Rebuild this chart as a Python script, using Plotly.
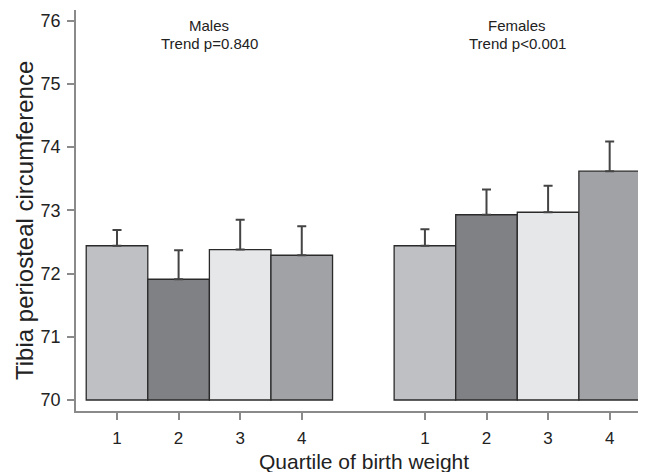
import plotly.graph_objects as go

# Data
quartile_labels = ["1", "2", "3", "4", "1", "2", "3", "4"]
x_positions = [1, 2, 3, 4, 6, 7, 8, 9]
male_means = [72.44, 71.91, 72.38, 72.29]
male_upper = [72.69, 72.37, 72.85, 72.75]
female_means = [72.44, 72.93, 72.97, 73.62]
female_upper = [72.70, 73.33, 73.39, 74.09]
bar_colors = ["#bfc0c4", "#808185", "#e6e7e9", "#a1a2a6"]
baseline = 70

means = male_means + female_means
uppers = male_upper + female_upper

fig = go.Figure()
fig.add_trace(go.Bar(
    x=x_positions,
    y=[m - baseline for m in means],
    base=baseline,
    width=1.0,
    marker=dict(color=bar_colors * 2, line=dict(color="#2a2a2a", width=1.3)),
    error_y=dict(type="data", symmetric=False,
                 array=[u - m for u, m in zip(uppers, means)],
                 arrayminus=[0] * len(means),
                 color="#444444", thickness=2, width=4.5),
    showlegend=False,
))

font_family = "Liberation Sans, Arial, sans-serif"
axis_col = "#8a8a8a"

# The page body has an 8px default margin; figure is sized to fit the window.
OFF = 8
plot_top, plot_bottom, plot_left, plot_right = 10, 411, 76, 646  # in window pixels

fig.update_layout(
    width=646 - OFF, height=472 - OFF,
    margin=dict(l=plot_left - OFF, r=0, t=plot_top - OFF, b=472 - plot_bottom),
    paper_bgcolor="white", plot_bgcolor="white",
    font=dict(family=font_family, color="#222222"),
    xaxis=dict(range=[0.334, 9.59], tickmode="array", tickvals=x_positions,
               ticktext=quartile_labels, showgrid=False, zeroline=False,
               showline=True, linecolor=axis_col, linewidth=1.5,
               ticks="outside", ticklen=7, tickcolor=axis_col, tickwidth=1.5,
               ticklabelstandoff=4,
               tickfont=dict(size=17, color="#222222")),
    yaxis=dict(range=[69.826, 76.169], tickvals=[70, 71, 72, 73, 74, 75, 76],
               showgrid=False, zeroline=False,
               showline=True, linecolor=axis_col, linewidth=1.5,
               ticks="outside", ticklen=7, tickcolor=axis_col, tickwidth=1.5,
               ticklabelstandoff=3,
               tickfont=dict(size=18, color="#222222")),
)

def py(pix):
    return (plot_bottom - pix) / (plot_bottom - plot_top)

def px(pix):
    return (pix - plot_left) / (plot_right - plot_left)

annotations = [
    dict(text="Males", x=2.5, xref="x", y=py(26), yref="paper", yanchor="middle",
         showarrow=False, font=dict(size=15)),
    dict(text="Trend p=0.840", x=2.5, xref="x", y=py(43.5), yref="paper", yanchor="middle",
         showarrow=False, font=dict(size=15)),
    dict(text="Females", x=7.5, xref="x", y=py(26), yref="paper", yanchor="middle",
         showarrow=False, font=dict(size=15)),
    dict(text="Trend p<0.001", x=7.5, xref="x", y=py(43.5), yref="paper", yanchor="middle",
         showarrow=False, font=dict(size=15)),
    dict(text="Quartile of birth weight", x=px(364), xref="paper", y=py(461), yref="paper",
         yanchor="middle", showarrow=False, font=dict(size=21)),
    dict(text="Tibia periosteal circumference", x=px(24), xref="paper", xanchor="center",
         y=py(221), yref="paper", yanchor="middle",
         showarrow=False, textangle=-90, font=dict(size=24)),
]
fig.update_layout(annotations=annotations)

fig.write_html("out.html")
